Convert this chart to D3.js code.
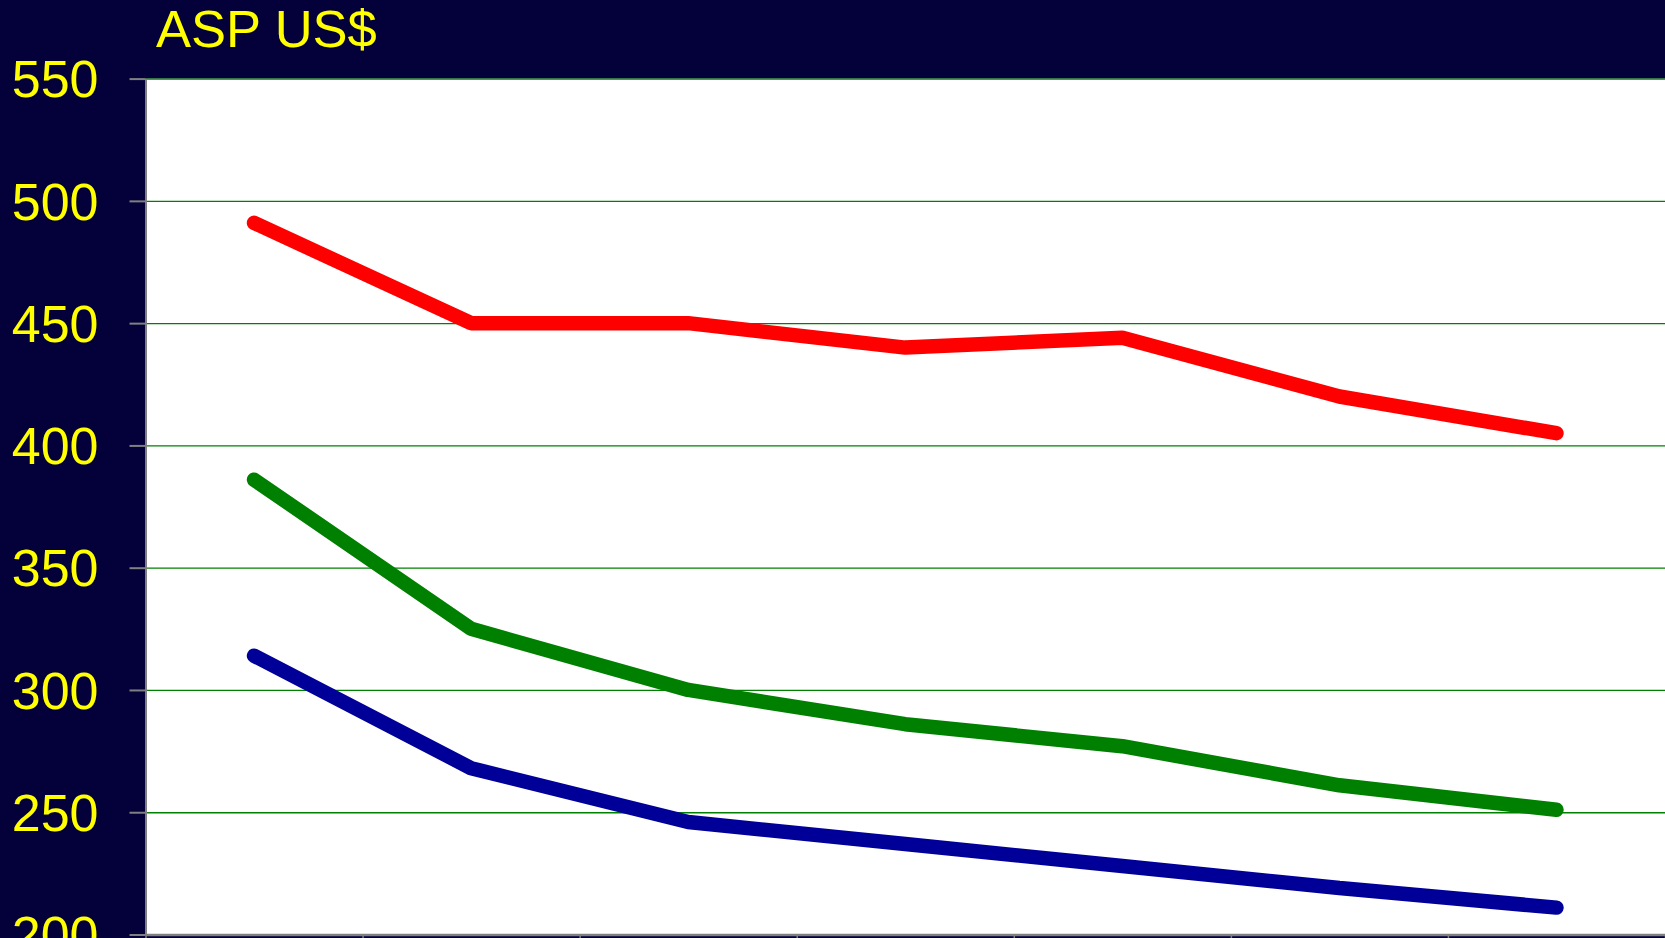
<!DOCTYPE html>
<html>
<head>
<meta charset="utf-8">
<script src="https://cdn.jsdelivr.net/npm/d3@7"></script>
<style>
  html, body { margin: 0; padding: 0; background: #03003a; overflow: hidden; }
  svg { display: block; }
</style>
</head>
<body>
<div id="chart"></div>
<script>
/* Data */
const categories = ["P1", "P2", "P3", "P4", "P5", "P6", "P7"];
const redValues = [491, 450, 450, 440, 444, 420, 405];
const greenValues = [386, 325, 300, 286, 277, 261, 251];
const blueValues = [314, 268, 246, 237, 228, 219, 211];
const yTicks = [200, 250, 300, 350, 400, 450, 500, 550];
const titleText = "ASP US$";

/* Dimensions */
const width = 1665;
const height = 938;
const margin = { top: 78.6, right: 0, bottom: 3.5, left: 145.5 };

const svg = d3.select("#chart")
  .append("svg")
  .attr("width", width)
  .attr("height", height);

// dark background
svg.append("rect")
  .attr("width", width)
  .attr("height", height)
  .attr("fill", "#03003a");

/* Scales */
const xScale = d3.scaleBand()
  .domain(categories)
  .range([margin.left, width - margin.right])
  .padding(0);

// boundaries between categories, for the bottom axis ticks
const xEdges = d3.scaleLinear()
  .domain([0, categories.length])
  .range([margin.left, width - margin.right]);

const yScale = d3.scaleLinear()
  .domain([200, 550])
  .range([height - margin.bottom, margin.top]);

// plot area
svg.append("rect")
  .attr("x", margin.left)
  .attr("y", margin.top)
  .attr("width", width - margin.right - margin.left)
  .attr("height", height - margin.bottom - margin.top)
  .attr("fill", "#ffffff");

// gridlines
const grid = svg.append("g")
  .attr("transform", `translate(${margin.left},0)`)
  .call(d3.axisLeft(yScale)
    .tickValues(yTicks)
    .tickSize(-(width - margin.right - margin.left))
    .tickFormat(""));
grid.select(".domain").remove();
grid.selectAll(".tick line")
  .attr("stroke", "#008000")
  .attr("stroke-width", 1.3);

/* Lines */
const line = d3.line()
  .x((d, i) => xScale(categories[i]) + xScale.bandwidth() / 2)
  .y(d => yScale(d));

const series = [
  { values: redValues, color: "#ff0000" },
  { values: greenValues, color: "#008000" },
  { values: blueValues, color: "#000099" }
];

svg.selectAll(".series")
  .data(series)
  .enter()
  .append("path")
  .attr("class", "series")
  .attr("d", d => line(d.values))
  .attr("fill", "none")
  .attr("stroke", d => d.color)
  .attr("stroke-width", 14.5)
  .attr("stroke-linejoin", "bevel")
  .attr("stroke-linecap", "round");

/* Axes */
// Y-axis
const yAxis = svg.append("g")
  .attr("transform", `translate(${margin.left},0)`)
  .call(d3.axisLeft(yScale)
    .tickValues(yTicks)
    .tickSize(16)
    .tickSizeOuter(0)
    .tickPadding(31));
yAxis.select(".domain")
  .attr("stroke", "#808080")
  .attr("stroke-width", 2);
yAxis.selectAll(".tick line")
  .attr("stroke", "#808080")
  .attr("stroke-width", 2);
yAxis.selectAll(".tick text")
  .attr("fill", "#ffff00")
  .attr("dy", "0.35em")
  .style("font-family", "'Liberation Sans', Arial, sans-serif")
  .style("font-size", "52px");

// X-axis (ticks at category boundaries, no labels)
const xAxis = svg.append("g")
  .attr("transform", `translate(0,${height - margin.bottom})`)
  .call(d3.axisBottom(xEdges)
    .tickValues(d3.range(categories.length + 1))
    .tickSize(6)
    .tickSizeOuter(0)
    .tickFormat(""));
xAxis.select(".domain")
  .attr("stroke", "#808080")
  .attr("stroke-width", 2.5);
xAxis.selectAll(".tick line")
  .attr("stroke", "#808080")
  .attr("stroke-width", 1.5);

// Title
svg.append("text")
  .attr("x", 156)
  .attr("y", 46.5)
  .attr("fill", "#ffff00")
  .style("font-family", "'Liberation Sans', Arial, sans-serif")
  .style("font-size", "52.5px")
  .text(titleText);
</script>
</body>
</html>
